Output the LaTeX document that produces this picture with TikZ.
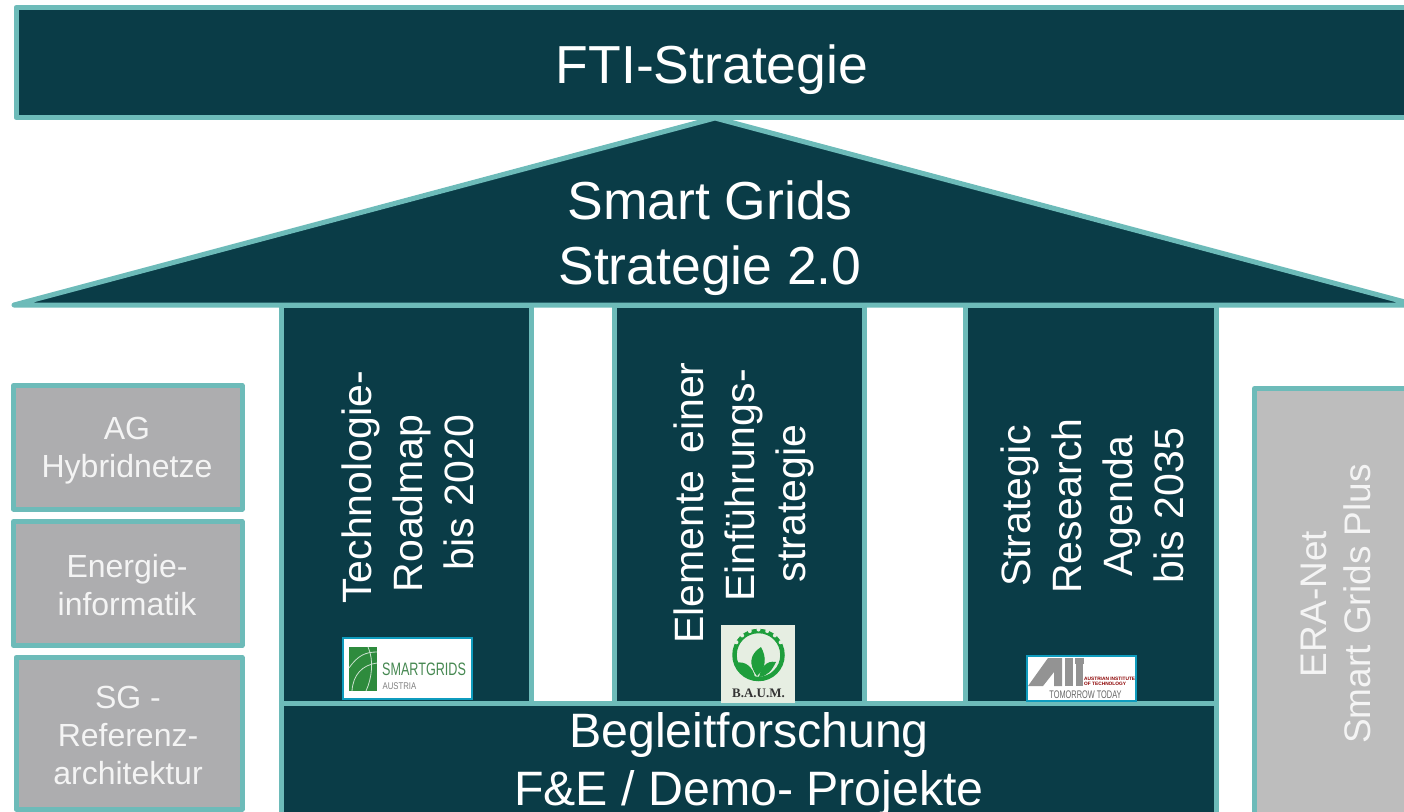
\documentclass[tikz,border=0pt]{standalone}
\usepackage{fontspec}
\setmainfont{Liberation Sans}
\definecolor{dark}{HTML}{0A3C47}
\definecolor{rim}{HTML}{6DBBB9}
\definecolor{gbox}{HTML}{ADADAF}
\definecolor{gbox2}{HTML}{BDBDBD}
\definecolor{paletxt}{HTML}{F4F4F4}
\definecolor{logoline}{HTML}{0F9CBE}
\definecolor{leaf}{HTML}{2E8B3D}
\definecolor{bleaf}{HTML}{1E9E3C}
\definecolor{paleg}{HTML}{E6EEE2}
\tikzset{
  x=1pt,y=-1pt,
  block/.style={draw=rim,line width=5pt,fill=dark,line join=round},
  grayblock/.style={draw=rim,line width=5pt,fill=gbox,line join=round},
  eraline/.style={draw=rim,line width=5pt,fill=gbox2,line join=round},
  txt/.style={text=white,align=center,inner sep=0pt},
  big/.style={txt,font=\fontsize{53.5}{65}\selectfont},
  mid/.style={txt,anchor=base,font=\fontsize{48.3}{58}\selectfont},
  vert/.style={txt,rotate=90,anchor=base,font=\fontsize{41}{50}\selectfont},
  small/.style={txt,text=paletxt,font=\fontsize{32}{38}\selectfont},
  logobox/.style={fill=white,draw=logoline,line width=2pt},
}
\begin{document}
\begin{tikzpicture}
\useasboundingbox (0,0) rectangle (1404,811);
\begin{scope}
\clip (0,0) rectangle (1404,811);
% top bar
\draw[block] (16,7.5) rectangle (1420,117.5);
\node[big] (fti) at (712,70) {FTI-Strategie};
% columns
\draw[block] (281,305) rectangle (531.5,703);
\draw[block] (614.5,305) rectangle (864.5,703);
\draw[block] (965.5,305) rectangle (1216.5,703);
% base
\draw[block] (281,703) rectangle (1216.5,830);
\node[mid] (begleit) at (749,747) {Begleitforschung};
\node[mid] (demo) at (749,805) {F\&E / Demo- Projekte};
% roof
\draw[block] (715,118) -- (1416,305) -- (14,305) -- cycle;
\node[big] (roof) at (710,238) {Smart Grids\\Strategie 2.0};
% column text
\node[vert] (c1a) at (371,487.5) {Technologie-};
\node[vert] (c1b) at (422,503.5) {Roadmap};
\node[vert] (c1c) at (473,492.5) {bis 2020};
\node[vert] (c2a) at (703,503) {Elemente\hspace{17pt}einer};
\node[vert] (c2b) at (754,485.5) {Einführungs-};
\node[vert] (c2c) at (805,503.5) {strategie};
\node[vert] (c3a) at (1030,506) {Strategic};
\node[vert] (c3b) at (1081,506) {Research};
\node[vert] (c3c) at (1132,506) {Agenda};
\node[vert] (c3d) at (1183,505.5) {bis 2035};
% left boxes
\draw[grayblock] (13.5,385.5) rectangle (242,509);
\node[small] (ag) at (127,450.5) {AG\\Hybridnetze};
\draw[grayblock] (13.5,521.5) rectangle (242,645.5);
\node[small] (en) at (127,585) {Energie-\\informatik};
\draw[grayblock] (16,657.5) rectangle (242,809);
\node[small] (sg) at (128,735) {SG -\\Referenz-\\architektur};
% right box
\draw[eraline] (1254.5,388.5) rectangle (1420,830);
\node[txt,rotate=90,text=paletxt,font=\fontsize{37}{44}\selectfont] (era) at (1336,604) {ERA-Net\\Smart Grids Plus};
% logo 1
\draw[logobox] (343,638) rectangle (472,699);
\fill[leaf] (349,647) rectangle (377,691);
\draw[white!75!leaf,line width=.8pt] (349,668) .. controls (358,655) and (366,652) .. (377,652);
\draw[white!75!leaf,line width=.8pt] (352,691) .. controls (353,675) and (362,665) .. (377,663);
\draw[white!75!leaf,line width=.8pt] (368,647) .. controls (374,660) and (372,678) .. (366,691);
\node[inner sep=0pt,anchor=west,xscale=.7,text=leaf!70!gray,font=\fontsize{18}{18}\selectfont] (l1a) at (382,669.5) {SMARTGRIDS};
\node[inner sep=0pt,anchor=west,xscale=.8,text=gray,font=\fontsize{9.7}{10}\selectfont] (l1b) at (382.5,686.5) {AUSTRIA};
% logo 2
\fill[paleg] (721,625) rectangle (795,703);
\draw[bleaf,line width=4.5pt] (758.5,655) circle (24);
\foreach \a in {30,50,70,90,110,130,150} \fill[paleg] (758.5,655) ++(-\a:25.5) circle (2);
\fill[bleaf] (757,676) .. controls (748,664) and (750,654) .. (761,647) .. controls (767,658) and (766,668) .. (757,676) -- cycle;
\fill[bleaf] (755,677) .. controls (746,677) and (740,672) .. (735,663) .. controls (746,660) and (753,668) .. (755,677) -- cycle;
\fill[bleaf] (759,677) .. controls (768,676) and (772,670) .. (776,662) .. controls (766,660) and (761,668) .. (759,677) -- cycle;
\node[inner sep=0pt,text=black!80,font=\fontspec{Liberation Serif}\bfseries\fontsize{13}{14}\selectfont] (l2) at (758.5,693) {B.A.U.M.};
% logo 3
\draw[logobox] (1027,656) rectangle (1136,701);
\fill[gray!85] (1028,686) -- (1048,658) -- (1062,658) -- (1062,686) -- (1054,686) -- (1054,672) -- (1043,686) -- cycle;
\fill[gray!85] (1065,658) rectangle (1073,686);
\fill[gray!85] (1075,658) rectangle (1084,664);
\fill[gray!85] (1076,664) rectangle (1083,686);
\node[inner sep=0pt,anchor=west,text=red!55!black,font=\bfseries\fontsize{4.8}{5}\selectfont,align=left] (l3a) at (1084,681) {AUSTRIAN INSTITUTE\\OF TECHNOLOGY};
\node[inner sep=0pt,xscale=.67,text=gray!80!black,font=\fontsize{11}{11}\selectfont] (l3b) at (1085.5,695) {TOMORROW TODAY};
\end{scope}
\end{tikzpicture}
\end{document}
